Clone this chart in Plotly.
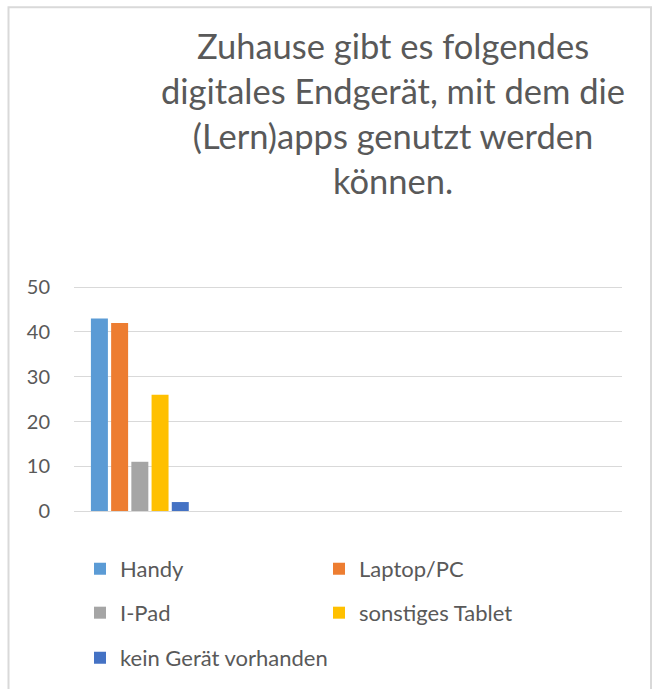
import plotly.graph_objects as go

categories = ["Endgerät"]
series_names = ["Handy", "Laptop/PC", "I-Pad", "sonstiges Tablet", "kein Gerät vorhanden"]
series_values = [43, 42, 11, 26, 2]
series_colors = ["#5B9BD5", "#ED7D31", "#A5A5A5", "#FFC000", "#4472C4"]
legend_ids = ["legend", "legend", "legend2", "legend2", "legend3"]
y_ticks = [0, 10, 20, 30, 40, 50]

title_text = "Zuhause gibt es folgendes<br>digitales Endgerät, mit dem die<br>(Lern)apps genutzt werden<br>können."

FONT = "Lato"
TXT = "#595959"
GRID = "#D9D9D9"

fig = go.Figure()
for name, val, col, lg in zip(series_names, series_values, series_colors, legend_ids):
    fig.add_trace(go.Bar(x=categories, y=[val], name=name, marker_color=col,
                         marker_line_width=0, legend=lg))

W, H = 659, 689
L, R = 74, 37
Y_TOP = 50.5
PX_PER_UNIT = 4.5
B = 177
ph = Y_TOP * PX_PER_UNIT
T = H - B - ph
pw = W - L - R

def px_x(p):
    return (p - L) / pw

def px_y(p):
    return (H - B - p) / ph

def leg(y_px, entry_w):
    return dict(orientation="h", xanchor="left", yanchor="middle",
                x=px_x(80), y=px_y(y_px),
                font=dict(family=FONT, size=22, color=TXT),
                entrywidth=entry_w, entrywidthmode="pixels",
                bgcolor="rgba(0,0,0,0)", borderwidth=0)

fig.update_layout(
    width=W, height=H,
    margin=dict(l=L, r=R, t=T, b=B, pad=0),
    paper_bgcolor="white", plot_bgcolor="white",
    barmode="group", bargap=0.24, bargroupgap=0.16,
    font=dict(family=FONT, color=TXT),
    xaxis=dict(range=[-0.495, 3.625], showticklabels=False, showgrid=False,
               showline=False, zeroline=False, ticks=""),
    yaxis=dict(range=[0, Y_TOP], tickvals=y_ticks, showgrid=True, gridcolor=GRID,
               gridwidth=1.3, zeroline=True, zerolinecolor=GRID, zerolinewidth=1.3,
               showline=False, ticks="", ticklabelstandoff=23,
               tickfont=dict(family=FONT, size=20, color=TXT)),
    legend=leg(569, 194),
    legend2=leg(613, 194),
    legend3=leg(658, 300),
    annotations=[dict(text=title_text, xref="paper", yref="paper",
                      x=px_x(393), y=px_y(111.5), xanchor="center", yanchor="middle",
                      showarrow=False, align="center",
                      font=dict(family=FONT, size=34.5, color=TXT))],
    shapes=[dict(type="rect", xref="paper", yref="paper",
                 x0=px_x(8.5), x1=px_x(651), y0=px_y(5.5), y1=px_y(720),
                 line=dict(color=GRID, width=2), fillcolor="rgba(0,0,0,0)",
                 layer="below")],
    showlegend=True,
)

fig.write_html("out.html", config={"displayModeBar": False},
               post_script="document.body.style.margin='0';")
